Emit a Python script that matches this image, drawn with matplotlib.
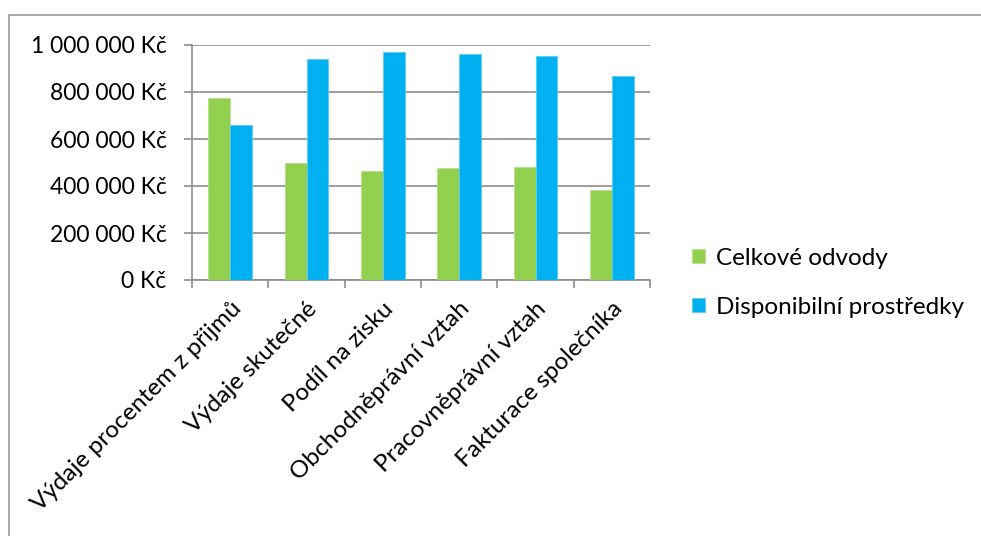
import matplotlib
matplotlib.use("Agg")
import matplotlib.pyplot as plt
from matplotlib.patches import Rectangle
from matplotlib.ticker import FuncFormatter, MultipleLocator
import numpy as np

plt.rcParams['font.family'] = ['Lato', 'DejaVu Sans']

categories = ["Výdaje procentem z přijmů", "Výdaje skutečné", "Podíl na zisku",
              "Obchodněprávní vztah", "Pracovněprávní vztah", "Fakturace společníka"]
celkove_odvody = [773000, 497000, 465000, 475000, 482000, 383000]
disponibilni = [661000, 939000, 969000, 960000, 953000, 869000]
series_names = ["Celkové odvody", "Disponibilní prostředky"]
colors = ["#92D050", "#00B0F0"]

W, H = 981, 536
fig = plt.figure(figsize=(W / 100, H / 100), dpi=100)
ax = fig.add_axes([192 / W, 1 - 280 / H, (650 - 192) / W, (280 - 45) / H])

x = np.arange(len(categories))
bw = 1 / 3.5
b1 = ax.bar(x - bw / 2, celkove_odvody, bw, color=colors[0], edgecolor="#B5E08A",
            linewidth=0.6, label=series_names[0], zorder=3)
b2 = ax.bar(x + bw / 2, disponibilni, bw, color=colors[1], edgecolor="#5CCBF5",
            linewidth=0.6, label=series_names[1], zorder=3)

ax.set_xlim(-0.5, len(categories) - 0.5)
ax.set_ylim(0, 1000000)
ax.yaxis.set_major_locator(MultipleLocator(200000))

def kc(v, pos):
    s = f"{int(round(v)):,}".replace(",", " ")
    return f"{s} Kč"

ax.yaxis.set_major_formatter(FuncFormatter(kc))
ax.grid(axis="y", color="#8C8C8C", linewidth=1.2, zorder=0)
for s in ["top", "right"]:
    ax.spines[s].set_visible(False)
for s in ["left", "bottom"]:
    ax.spines[s].set_color("#8C8C8C")
    ax.spines[s].set_linewidth(1.2)

ax.tick_params(axis="y", direction="out", length=5.8, width=1.2, color="#8C8C8C",
               labelsize=16.5, labelcolor="black", pad=12.5)
ax.set_xticks(np.arange(len(categories) + 1) - 0.5, minor=False)
ax.set_xticklabels([])
ax.tick_params(axis="x", which="major", direction="out", length=5.8, width=1.2,
               color="#8C8C8C")
ax.set_xticks(x, minor=True)
ax.set_xticklabels(categories, minor=True, rotation=45, ha="right",
                   rotation_mode="anchor", fontsize=17.5)
ax.tick_params(axis="x", which="minor", length=0, pad=13)

leg = fig.legend(handles=[b1, b2], labels=series_names, loc="upper left",
                 bbox_to_anchor=(682 / W, 1 - 238 / H), frameon=False,
                 fontsize=17.5, handlelength=0.55, handleheight=0.55,
                 handletextpad=0.45, labelspacing=1.15, borderaxespad=0)

# outer chart frame
fig.patches.append(Rectangle((9 / W, -0.1), 1.2, 1 - 15 / H + 0.1,
                             transform=fig.transFigure, fill=False,
                             edgecolor="#9A9A9A", linewidth=1.2))

fig.savefig("out.png", dpi=100)
